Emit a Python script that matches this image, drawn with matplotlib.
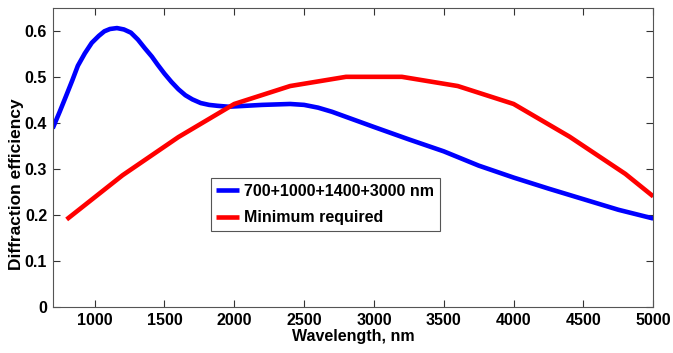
import matplotlib
matplotlib.use("Agg")
import matplotlib.pyplot as plt

plt.rcParams["font.family"] = ["Liberation Sans", "DejaVu Sans"]
plt.rcParams["font.weight"] = "bold"

# blue curve: 700+1000+1400+3000 nm design
wl_design = [700, 750, 790, 840, 880, 930, 980, 1030, 1070, 1110, 1160, 1210,
             1260, 1310, 1360, 1410, 1450, 1500, 1550, 1600, 1650, 1700, 1760,
             1820, 1880, 1960, 2080, 2200, 2300, 2400, 2500, 2600, 2700, 2800,
             2900, 3000, 3250, 3500, 3750, 4000, 4250, 4500, 4750, 5000]
eff_design = [0.389, 0.425, 0.455, 0.493, 0.525, 0.552, 0.575, 0.590, 0.600,
              0.605, 0.607, 0.604, 0.597, 0.582, 0.563, 0.545, 0.528, 0.508,
              0.490, 0.474, 0.461, 0.452, 0.444, 0.440, 0.438, 0.436, 0.438,
              0.440, 0.441, 0.442, 0.440, 0.434, 0.425, 0.414, 0.403, 0.392,
              0.365, 0.339, 0.308, 0.282, 0.258, 0.235, 0.212, 0.193]

# red curve: minimum required
wl_min = [800, 1200, 1600, 2000, 2400, 2800, 3200, 3600, 4000, 4400, 4800, 5000]
eff_min = [0.191, 0.287, 0.370, 0.442, 0.481, 0.501, 0.501, 0.481, 0.442,
           0.371, 0.290, 0.241]

x_ticks = [1000, 1500, 2000, 2500, 3000, 3500, 4000, 4500, 5000]
y_ticks = [0, 0.1, 0.2, 0.3, 0.4, 0.5, 0.6]
y_tick_labels = ["0", "0.1", "0.2", "0.3", "0.4", "0.5", "0.6"]

fig = plt.figure(figsize=(6.73, 3.53), dpi=100)
ax = fig.add_axes([0.0783, 0.1295, 0.8924, 0.847])

ax.plot(wl_design, eff_design, color="#0000ff", lw=3.3, solid_capstyle="butt",
        label="700+1000+1400+3000 nm")
ax.plot(wl_min, eff_min, color="#ff0000", lw=3.3, solid_capstyle="butt",
        label="Minimum required")

ax.set_xlim(700, 5000)
ax.set_ylim(0, 0.65)
ax.set_xticks(x_ticks)
ax.set_xticklabels([str(t) for t in x_ticks])
ax.set_yticks(y_ticks)
ax.set_yticklabels(y_tick_labels)
ax.tick_params(direction="in", length=5, width=0.8, color="#333333",
               top=True, right=True, labelsize=11.5, pad=4)
for lab in ax.get_xticklabels() + ax.get_yticklabels():
    lab.set_fontweight("bold")
for sp in ax.spines.values():
    sp.set_color("#555555")
    sp.set_linewidth(0.8)

ax.set_xlabel("Wavelength, nm", fontsize=11.5, fontweight="bold", labelpad=1)
ax.set_ylabel("Diffraction efficiency", fontsize=12.5, fontweight="bold",
              va="center")
ax.yaxis.set_label_coords(-0.061, 0.412)

leg = ax.legend(loc="upper left", bbox_to_anchor=(0.263, 0.431), borderaxespad=0,
                fancybox=False, framealpha=1, edgecolor="#555555",
                prop={"size": 11.5, "weight": "bold"}, handlelength=1.45,
                handletextpad=0.3, labelspacing=0.7, borderpad=0.35)
leg.get_frame().set_linewidth(0.8)

fig.savefig("out.png", dpi=100)
